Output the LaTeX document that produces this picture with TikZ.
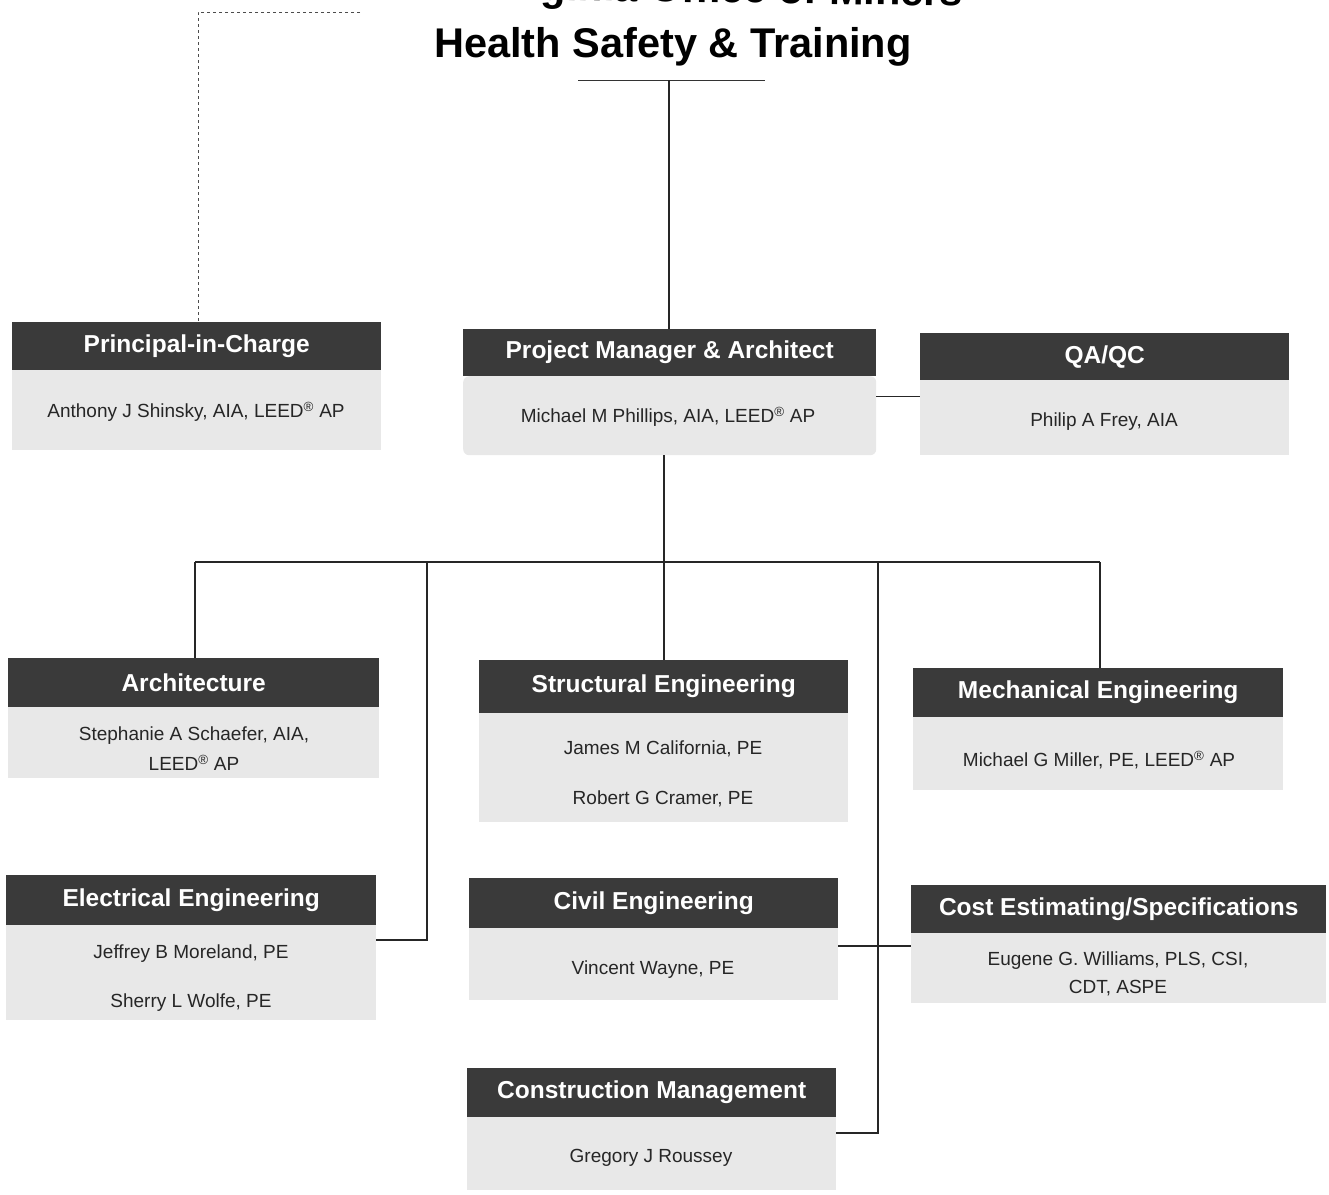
\documentclass[tikz,border=0pt]{standalone}
\usepackage{fontspec}
\setmainfont{Liberation Sans}
\newfontfamily\hdrfont{Liberation Sans}
\newfontfamily\bodyfont{Liberation Sans}
\newfontfamily\ttlfont{Liberation Sans}
\definecolor{hdr}{HTML}{3A3A3A}
\definecolor{bdy}{HTML}{E8E8E8}
\begin{document}
\begin{tikzpicture}[x=1pt,y=-1pt,
  hdrbox/.style={fill=hdr, anchor=north west, inner sep=0pt, text=white,
    font=\hdrfont\bfseries\fontsize{24.5}{26}\selectfont},
  bdybox/.style={fill=bdy, anchor=north west, inner sep=0pt},
  ppl/.style={font=\bodyfont\fontsize{19}{22}\selectfont, text=black!85, inner sep=0pt, align=center},
  conn/.style={line width=1.6pt, draw=black!85},
  dashconn/.style={line width=1pt, draw=black!70, dash pattern=on 3pt off 3pt},
  ttl/.style={font=\ttlfont\bfseries\fontsize{41.5}{44}\selectfont, text=black, inner sep=0pt}
]
\useasboundingbox (0,0) rectangle (1329,1194);
\fill[white] (0,0) rectangle (1329,1194);

% title
\node[ttl, anchor=base east, rotate=-0.8] (title0) at (963,6) {West Virginia Office of Miners};
\node[ttl, anchor=base] (title) at (673,57) {Health Safety \& Training};

% --- boxes ---
% Principal-in-Charge
\node[bdybox, minimum width=369, minimum height=80] (picb) at (12,370) {};
\node[hdrbox, minimum width=369, minimum height=48] (pich) at (12,322) {Principal-in-Charge};
\node[ppl] (picp) at (196,412) {Anthony J Shinsky, AIA, LEED\textsuperscript{®} AP};
% Project Manager
\node[bdybox, minimum width=413, minimum height=79, rounded corners=6pt] (pmb) at (463,376) {};
\node[hdrbox, minimum width=413, minimum height=47] (pmh) at (463,329) {Project Manager \& Architect};
\node[ppl] (pmp) at (668,417) {Michael M Phillips, AIA, LEED\textsuperscript{®} AP};
% QA/QC
\node[bdybox, minimum width=369, minimum height=75] (qab) at (920,380) {};
\node[hdrbox, minimum width=369, minimum height=47] (qah) at (920,333) {QA/QC};
\node[ppl] (qap) at (1104,422) {Philip A Frey, AIA};
% Architecture
\node[bdybox, minimum width=371, minimum height=71] (arb) at (8,707) {};
\node[hdrbox, minimum width=371, minimum height=49] (arh) at (8,658) {Architecture};
\node[ppl] (arp1) at (194,736) {Stephanie A Schaefer, AIA,};
\node[ppl] (arp2) at (194,763) {LEED\textsuperscript{®} AP};
% Structural
\node[bdybox, minimum width=369, minimum height=109] (stb) at (479,713) {};
\node[hdrbox, minimum width=369, minimum height=53] (sth) at (479,660) {Structural Engineering};
\node[ppl] (stp1) at (663,749) {James M California, PE};
\node[ppl] (stp2) at (663,799) {Robert G Cramer, PE};
% Mechanical
\node[bdybox, minimum width=370, minimum height=73] (meb) at (913,717) {};
\node[hdrbox, minimum width=370, minimum height=49] (meh) at (913,668) {Mechanical Engineering};
\node[ppl] (mep) at (1099,760) {Michael G Miller, PE, LEED\textsuperscript{®} AP};
% Electrical
\node[bdybox, minimum width=370, minimum height=95] (elb) at (6,925) {};
\node[hdrbox, minimum width=370, minimum height=50] (elh) at (6,875) {Electrical Engineering};
\node[ppl] (elp1) at (191,954) {Jeffrey B Moreland, PE};
\node[ppl] (elp2) at (191,1003) {Sherry L Wolfe, PE};
% Civil
\node[bdybox, minimum width=369, minimum height=72] (cvb) at (469,928) {};
\node[hdrbox, minimum width=369, minimum height=50] (cvh) at (469,878) {Civil Engineering};
\node[ppl] (cvp) at (653,970) {Vincent Wayne, PE};
% Cost Estimating
\node[bdybox, minimum width=415, minimum height=70] (csb) at (911,933) {};
\node[hdrbox, minimum width=415, minimum height=48] (csh) at (911,885) {Cost Estimating/Specifications};
\node[ppl] (csp1) at (1118,961) {Eugene G. Williams, PLS, CSI,};
\node[ppl] (csp2) at (1118,988) {CDT, ASPE};
% Construction Management
\node[bdybox, minimum width=369, minimum height=73] (cmb) at (467,1117) {};
\node[hdrbox, minimum width=369, minimum height=49] (cmh) at (467,1068) {Construction Management};
\node[ppl] (cmp) at (651,1158) {Gregory J Roussey};

% --- connectors ---
\coordinate (tl) at (578,80);
\coordinate (tr) at (765,80);
\coordinate (tc) at (669,80);
\draw[line width=1pt, draw=black!80] (tl) -- (tr);
\draw[conn] (tc) -- (tc |- pmh.north);

\coordinate (dr) at (360,12);
\coordinate (dc) at (198,12);
\draw[dashconn] (dr) -- (dc) -- (dc |- pich.north);

\draw[conn, line width=1pt] (878,396 -| pmb.east) -- (qab.west |- 878,396);

\coordinate (busL) at (195,562);
\coordinate (busR) at (1100,562);
\coordinate (busE) at (427,562);
\coordinate (busC) at (878,562);
\draw[conn] (busL) -- (busR);
\draw[conn] (pmb.south -| sth.north) -- (sth.north);
\draw[conn] (busL) -- (busL |- arh.north);
\draw[conn] (busR) -- (busR |- meh.north);
\draw[conn] (busE) -- (427,940) -- (elb.east |- 427,940);
\draw[conn] (busC) -- (878,1133) -- (cmb.east |- 878,1133);
\draw[conn] (cvb.east |- 878,946) -- (csb.west |- 878,946);
\end{tikzpicture}
\end{document}
